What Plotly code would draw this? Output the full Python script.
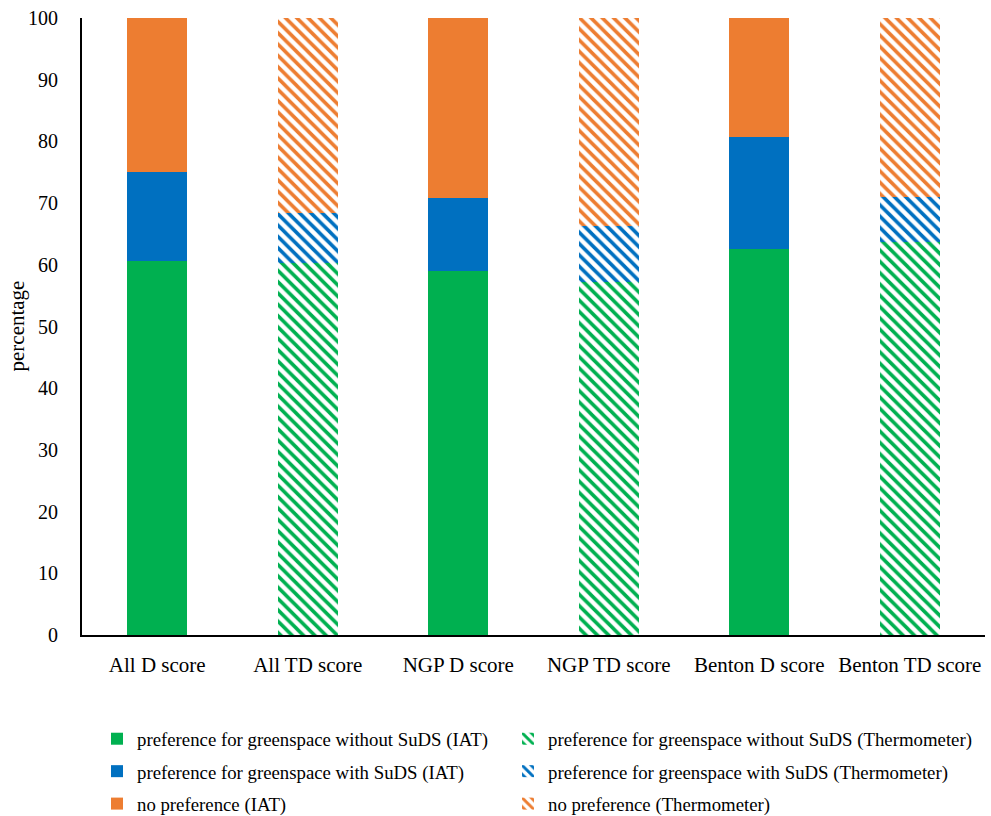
import plotly.graph_objects as go

categories = ["All D score", "All TD score", "NGP D score", "NGP TD score", "Benton D score", "Benton TD score"]
is_iat = [True, False, True, False, True, False]
green_vals = [60.6, 60.3, 59.0, 57.2, 62.6, 63.7]
blue_vals = [14.4, 8.1, 11.8, 9.1, 18.1, 7.3]
orange_vals = [25.0, 31.6, 29.2, 33.7, 19.3, 29.0]

series = [
    ("preference for greenspace without SuDS", green_vals, "#00B050"),
    ("preference for greenspace with SuDS", blue_vals, "#0070C0"),
    ("no preference", orange_vals, "#ED7D31"),
]

fig = go.Figure()
for i, (name, vals, col) in enumerate(series):
    iat_y = [v if f else None for v, f in zip(vals, is_iat)]
    th_y = [v if not f else None for v, f in zip(vals, is_iat)]
    fig.add_trace(go.Bar(
        x=categories, y=iat_y, name=name + " (IAT)",
        marker=dict(color=col, line=dict(width=0)),
        width=0.4, legend="legend", legendgroup="iat%d" % i, legendrank=i + 1,
    ))
    fig.add_trace(go.Bar(
        x=categories, y=th_y, name=name + " (Thermometer)",
        marker=dict(color="white", line=dict(width=0),
                    pattern=dict(shape="\\", fgcolor=col, bgcolor="white",
                                 fillmode="replace", size=8, solidity=0.45)),
        width=0.4, legend="legend2", legendgroup="th%d" % i, legendrank=i + 1,
    ))

font_family = "Liberation Serif, Times New Roman, serif"
legend_common = dict(
    orientation="v", xref="container", yref="container",
    xanchor="left", yanchor="top", y=1 - 720 / 816,
    font=dict(size=18.8, family=font_family),
    traceorder="grouped", itemwidth=30, tracegroupgap=5,
    bgcolor="rgba(0,0,0,0)",
)
fig.update_layout(
    barmode="stack",
    width=991, height=816,
    margin=dict(l=82, r=6, t=18, b=181, autoexpand=False),
    plot_bgcolor="white", paper_bgcolor="white",
    font=dict(family=font_family, color="black", size=20),
    legend=dict(legend_common, x=97 / 991),
    legend2=dict(legend_common, x=508 / 991),
    showlegend=True,
    annotations=[dict(
        text="percentage", textangle=-90, showarrow=False,
        xref="paper", yref="paper", x=(16 - 82) / 903, y=0.5,
        xanchor="center", yanchor="middle",
        font=dict(size=21, family=font_family, color="black"),
    )],
)
fig.update_xaxes(
    showline=True, linecolor="black", linewidth=2,
    ticks="", tickfont=dict(size=21), showgrid=False,
    ticklabelstandoff=10, automargin=False,
)
fig.update_yaxes(
    range=[0, 100], dtick=10, showline=True, linecolor="black", linewidth=2,
    ticks="", showgrid=False, zeroline=False, tickfont=dict(size=20),
    ticklabelstandoff=18, automargin=False,
)

fig.write_html("out.html")
